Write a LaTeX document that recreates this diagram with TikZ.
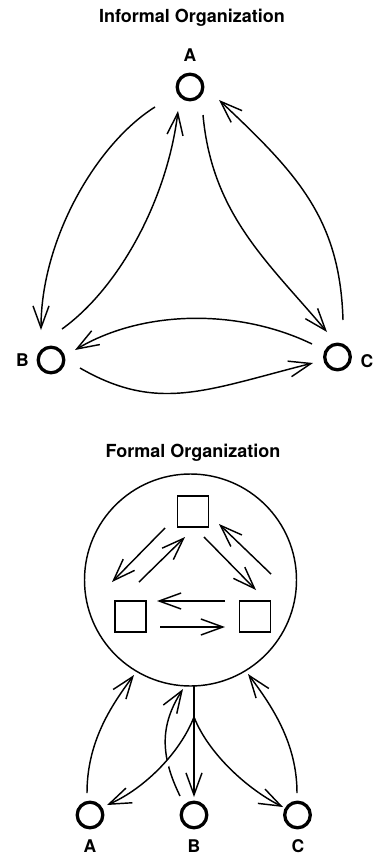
\documentclass[tikz,border=0pt]{standalone}
\usepackage{fontspec}
\setmainfont{TeX Gyre Heros}
\usetikzlibrary{arrows.meta}
\begin{document}
\begin{tikzpicture}[x=1pt,y=-1pt,
  arr/.style={-{Straight Barb[length=22pt,width=16pt,line width=1.45pt]}, line width=1.45pt},
  person/.style={circle, draw, line width=3.3pt, minimum size=25.6pt, inner sep=0pt},
  office/.style={rectangle, draw, line width=1.6pt, minimum size=31pt, inner sep=0pt},
  titletext/.style={font=\bfseries\fontsize{18}{20}\selectfont, anchor=base, inner sep=0pt},
  labeltext/.style={font=\bfseries\fontsize{17.5}{19}\selectfont, anchor=base, inner sep=0pt},
  gap/.style={preaction={draw=white, line width=5pt, shorten <=30pt, shorten >=25pt, arrows=-}}]
\useasboundingbox (0,0) rectangle (374,856);
% ---------- Informal organization ----------
\node[titletext] (t1) at (192,23) {Informal Organization};
\node[person] (A) at (190,87) {};
\node[person] (B) at (51,360) {};
\node[person] (C) at (337.5,357) {};
\node[labeltext] (la) at (190,61.7) {A};
\node[labeltext] (lb) at (22.5,366.7) {B};
\node[labeltext] (lc) at (367,367) {C};
\draw[arr] ([shift={(-35,20)}]A.center) .. controls +(-59,37) and +(0,-90) .. ([shift={(-10,-30)}]B.center);
\draw[arr] ([shift={(11,-31)}]B.center) .. controls +(57,-41) and +(-11,89) .. ([shift={(-12,24)}]A.center);
\draw[arr] ([shift={(13,28)}]A.center) .. controls +(9,100) and +(-58,-69) .. ([shift={(-10.5,-25)}]C.center);
\draw[arr] ([shift={(5.5,-37)}]C.center) .. controls +(-3,-100) and +(80,75) .. ([shift={(29,13)}]A.center);
\draw[arr] ([shift={(-25.5,-13)}]C.center) .. controls +(-72,-35) and +(69,-41) .. ([shift={(24,-10)}]B.center);
\draw[arr] ([shift={(29,8)}]B.center) .. controls +(78,45) and +(-107,27) .. ([shift={(-24.5,6)}]C.center);
% ---------- Formal organization ----------
\node[titletext] (t2) at (193,457) {Formal Organization};
\node[circle, draw, line width=1.45pt, minimum size=212pt, inner sep=0pt] (org) at (190.5,580) {};
\node[office] (S1) at (193,511.5) {};
\node[office] (S2) at (130.5,616.5) {};
\node[office] (S3) at (255,616.5) {};
\draw[arr] ([shift={(-28,16.5)}]S1.center) -- ([shift={(-18.5,-34.5)}]S2.center);
\draw[arr] ([shift={(8.5,-34.5)}]S2.center) -- ([shift={(-8,25.5)}]S1.center);
\draw[arr] ([shift={(11,25.5)}]S1.center) -- ([shift={(1,-26.5)}]S3.center);
\draw[arr] ([shift={(16,-42.5)}]S3.center) -- ([shift={(26,12.5)}]S1.center);
\draw[arr] ([shift={(-30,-15.5)}]S3.center) -- ([shift={(26.5,-15.5)}]S2.center);
\draw[arr] ([shift={(29.5,10.5)}]S2.center) -- ([shift={(-30,10.5)}]S3.center);
\node[person] (A2) at (90,815) {};
\node[person] (B2) at (194,815) {};
\node[person] (C2) at (297.5,815) {};
\node[labeltext] (la2) at (90,852) {A};
\node[labeltext] (lb2) at (194,852) {B};
\node[labeltext] (lc2) at (298,852) {C};
\draw[arr] ([shift={(-3,-22)}]A2.center) .. controls +(0,-50) and +(-24,32) .. ([shift={(-56.5,95)}]org.center);
\draw[arr] ([shift={(-14,-19)}]B2.center) .. controls +(-20,-41) and +(-23,36) .. ([shift={(-7.5,109)}]org.center);
\draw[arr] ([shift={(3.5,106)}]org.center) -- ([shift={(0,-18)}]B2.center);
\draw[arr,gap] ([shift={(3.5,137)}]org.center) .. controls +(-14,36) and +(37,-16) .. ([shift={(17,-10)}]A2.center);
\draw[arr] ([shift={(3.5,137)}]org.center) .. controls +(14,36) and +(-36,-18) .. ([shift={(-14.5,-8)}]C2.center);
\draw[arr] ([shift={(-0.5,-22)}]C2.center) .. controls +(0,-50) and +(24,32) .. ([shift={(57.5,94)}]org.center);
\end{tikzpicture}
\end{document}
